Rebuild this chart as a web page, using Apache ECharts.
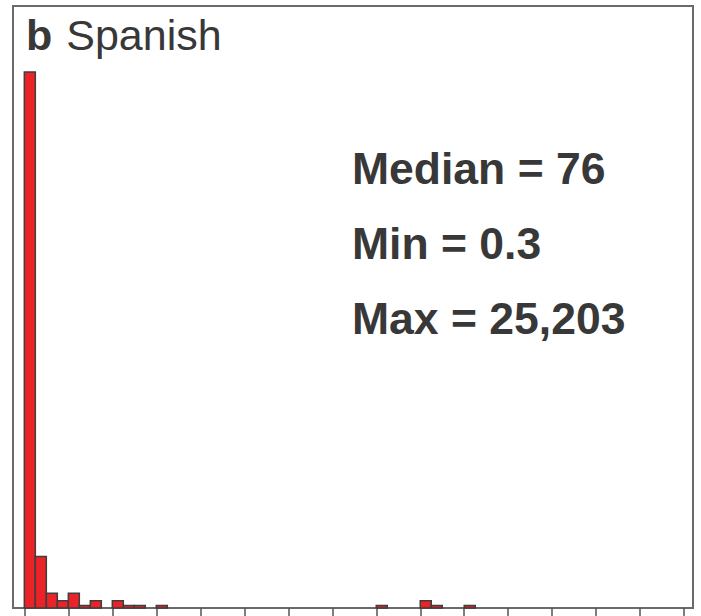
<!DOCTYPE html>
<html>
<head>
<meta charset="utf-8">
<script src="https://cdn.jsdelivr.net/npm/echarts@6/dist/echarts.min.js"></script>
<style>
html,body{margin:0;padding:0;background:#fff;}
#chart{width:701px;height:616px;}
</style>
</head>
<body>
<div id="chart"></div>
<script>
// Histogram bins (bin index = position along the x axis, 4 bins per tick interval)
const binIndex = [0, 1, 2, 3, 4, 5, 6, 8, 9, 10, 12, 32, 36, 37, 40];
const binCounts = [219, 21, 6, 3, 6, 1, 3, 3, 1, 1, 1, 1, 3, 1, 1];
const tickValues = [0, 4, 8, 12, 16, 20, 24, 28, 32, 36, 40, 44, 48, 52, 56, 60];
const panelLetter = 'b';
const panelTitle = 'Spanish';
const statLines = ['Median = 76', 'Min = 0.3', 'Max = 25,203'];

const chart = echarts.init(document.getElementById('chart'), null, {renderer: 'svg'});
const textColor = '#383838';

const data = binIndex.map((b, i) => [b, binCounts[i]]);

chart.setOption({
  animation: false,
  grid: {left: 13, right: 8, top: 6, bottom: 8, show: true, borderColor: '#6a6a6a', borderWidth: 2, containLabel: false},
  xAxis: {
    type: 'value', min: -1.03, max: 60.8,
    axisLine: {show: true, onZero: false, lineStyle: {color: '#6a6a6a', width: 2}},
    axisTick: {show: true, inside: false, length: 9, customValues: tickValues, lineStyle: {color: '#555', width: 1.5}},
    axisLabel: {show: false},
    splitLine: {show: false}
  },
  yAxis: {
    type: 'value', min: 0, max: 246,
    axisLine: {show: false}, axisTick: {show: false}, axisLabel: {show: false}, splitLine: {show: false}
  },
  series: [{
    type: 'custom',
    data: data,
    renderItem: function (params, api) {
      const x0 = api.value(0);
      const c = api.value(1);
      const p0 = api.coord([x0, 0]);
      const p1 = api.coord([x0 + 1, c]);
      return {
        type: 'rect',
        shape: {x: p0[0], y: p1[1], width: p1[0] - p0[0], height: p0[1] - p1[1]},
        style: {fill: '#ec2229', stroke: '#3e3e3e', lineWidth: 1.5}
      };
    }
  }],
  graphic: [
    {
      type: 'text', left: 26, top: 13,
      style: {
        text: '{b|' + panelLetter + '}{r|' + panelTitle + '}',
        rich: {
          b: {fontFamily: 'Liberation Sans', fontWeight: 'bold', fontSize: 43, fill: textColor, padding: [0, 14, 0, 0]},
          r: {fontFamily: 'Liberation Sans', fontWeight: 'normal', fontSize: 43, fill: textColor}
        }
      }
    },
    ...statLines.map((t, i) => ({
      type: 'text', left: 352, top: 146 + i * 75,
      style: {text: t, fontFamily: 'Liberation Sans', fontWeight: 'bold', fontSize: 44.5, fill: textColor}
    }))
  ]
});
</script>
</body>
</html>
